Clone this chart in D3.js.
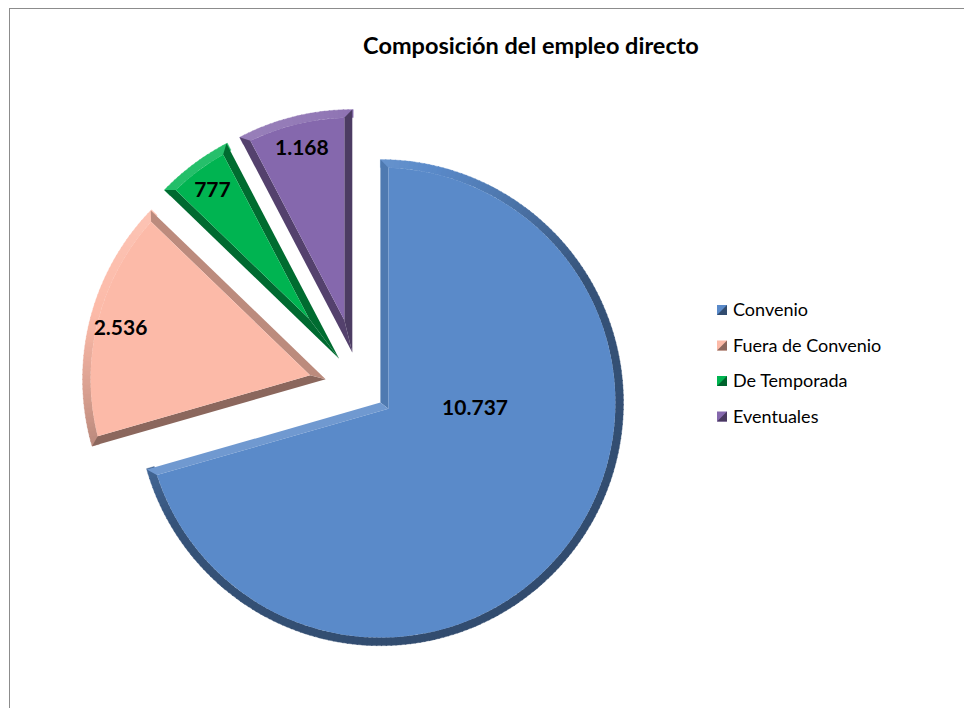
<!DOCTYPE html>
<html>
<head>
<meta charset="utf-8">
<script src="https://cdn.jsdelivr.net/npm/d3@7"></script>
<style>
  body { margin: 0; background: #fff; }
  svg { display: block; font-family: Lato, "Open Sans", sans-serif; }
</style>
</head>
<body>
<div class="chart"></div>
<script>
// === Data ===
const categories = ["Convenio", "Fuera de Convenio", "De Temporada", "Eventuales"];
const values = [10737, 2536, 777, 1168];
const valueLabels = ["10.737", "2.536", "777", "1.168"];
const explode = [0.10, 0.15, 0.15, 0.15];   // explosion per slice, fraction of radius
const colors = ["#5a8ac9", "#fcbaa8", "#00b451", "#8568ad"];

// === Chart init ===
const width = 964, height = 708;
const cx = 361, cy = 388, radius = 243;
const bevel = 8;

const svg = d3.select(".chart").append("svg")
    .attr("width", width)
    .attr("height", height);

// chart border (only top and left edges are visible in the frame)
svg.append("rect")
    .attr("x", 9.5).attr("y", 8.5)
    .attr("width", 1000).attr("height", 1000)
    .attr("fill", "none")
    .attr("stroke", "#8c8c8c");

svg.append("text")
    .attr("x", 531).attr("y", 54)
    .attr("text-anchor", "middle")
    .attr("font-weight", "bold")
    .attr("font-size", "23.5px")
    .attr("fill", "#000")
    .text("Composición del empleo directo");

const pie = d3.pie().sort(null).value(d => d.value);
const data = categories.map((c, i) => ({name: c, value: values[i], label: valueLabels[i], exp: explode[i], color: colors[i]}));
const arcs = pie(data);

// light comes from top-left
const L = [-0.51, -0.86];
function shade(color, nx, ny) {
    const t = nx * L[0] + ny * L[1];
    const f = t > 0 ? 0.6 + 0.55 * t : 0.6 + 0.05 * t;
    const c = d3.rgb(color);
    if (f <= 1) return d3.rgb(c.r * f, c.g * f, c.b * f).formatHex();
    const k = f - 1;
    return d3.rgb(c.r + (255 - c.r) * k, c.g + (255 - c.g) * k, c.b + (255 - c.b) * k).formatHex();
}
// point on circle, angle clockwise from 12 o'clock
const pt = (a, r) => [Math.sin(a) * r, -Math.cos(a) * r];

const slices = svg.selectAll("g.slice")
    .data(arcs)
    .enter()
    .append("g")
    .attr("class", "slice")
    .attr("transform", d => {
        const mid = (d.startAngle + d.endAngle) / 2;
        const off = pt(mid, d.data.exp * radius);
        return "translate(" + (cx + off[0]) + "," + (cy + off[1]) + ")";
    });

slices.each(function(d) {
    const g = d3.select(this);
    const a0 = d.startAngle, a1 = d.endAngle;
    const col = d.data.color;
    const half = (a1 - a0) / 2;
    const mid = a0 + half;
    const P = pt(mid, bevel / Math.sin(half));
    const delta = Math.asin(bevel / (radius - bevel));
    const i0 = pt(a0 + delta, radius - bevel);
    const i1 = pt(a1 - delta, radius - bevel);
    const o0 = pt(a0, radius), o1 = pt(a1, radius);

    // outer arc bevel, in small steps so the shading follows the normal
    const steps = Math.max(4, Math.ceil((a1 - a0) / 0.02));
    const band = d3.arc().innerRadius(radius - bevel).outerRadius(radius);
    for (let s = 0; s < steps; s++) {
        const b0 = a0 + (a1 - a0) * s / steps;
        const b1 = a0 + (a1 - a0) * (s + 1) / steps;
        const bm = (b0 + b1) / 2;
        const c = shade(col, Math.sin(bm), -Math.cos(bm));
        g.append("path")
            .attr("d", band({startAngle: b0, endAngle: b1 + 0.004}))
            .attr("fill", c)
            .attr("stroke", c)
            .attr("stroke-width", 0.4);
    }

    // radial edge bevels
    const n0 = [Math.sin(a0 - Math.PI / 2), -Math.cos(a0 - Math.PI / 2)];
    const n1 = [Math.sin(a1 + Math.PI / 2), -Math.cos(a1 + Math.PI / 2)];
    g.append("path")
        .attr("d", "M0,0L" + o0 + "L" + i0 + "L" + P + "Z")
        .attr("fill", shade(col, n0[0], n0[1]));
    g.append("path")
        .attr("d", "M0,0L" + o1 + "L" + i1 + "L" + P + "Z")
        .attr("fill", shade(col, n1[0], n1[1]));

    // flat face
    const face = d3.path();
    face.moveTo(P[0], P[1]);
    face.lineTo(i0[0], i0[1]);
    face.arc(0, 0, radius - bevel, a0 + delta - Math.PI / 2, a1 - delta - Math.PI / 2);
    face.closePath();
    g.append("path")
        .attr("d", face.toString())
        .attr("fill", col);
});

// value labels
const labelPos = d => {
    const big = d.endAngle - d.startAngle > Math.PI;
    const a = big ? d.startAngle + Math.PI / 2 + 0.05 : (d.startAngle + d.endAngle) / 2;
    const r = big ? 0.39 * radius : 0.87 * radius;
    return pt(a, r);
};
slices.append("text")
    .attr("x", d => labelPos(d)[0])
    .attr("y", d => labelPos(d)[1])
    .attr("dy", "0.35em")
    .attr("text-anchor", "middle")
    .attr("font-weight", "bold")
    .attr("font-size", "21px")
    .attr("fill", "#000")
    .text(d => d.data.label);

// legend
const legend = svg.append("g")
    .attr("transform", "translate(717, 310)");
const items = legend.selectAll("g")
    .data(data)
    .enter()
    .append("g")
    .attr("transform", (d, i) => "translate(0," + i * 35.5 + ")");
items.append("rect")
    .attr("x", 0).attr("y", -5)
    .attr("width", 10).attr("height", 10)
    .attr("fill", d => d.color);
items.append("path")
    .attr("d", "M0,5L10,-5L10,5Z")
    .attr("fill", d => shade(d.color, 0.7, 0.7));
items.append("text")
    .attr("x", 16)
    .attr("dy", "0.35em")
    .attr("font-size", "18px")
    .attr("fill", "#000")
    .text(d => d.name);
</script>
</body>
</html>
